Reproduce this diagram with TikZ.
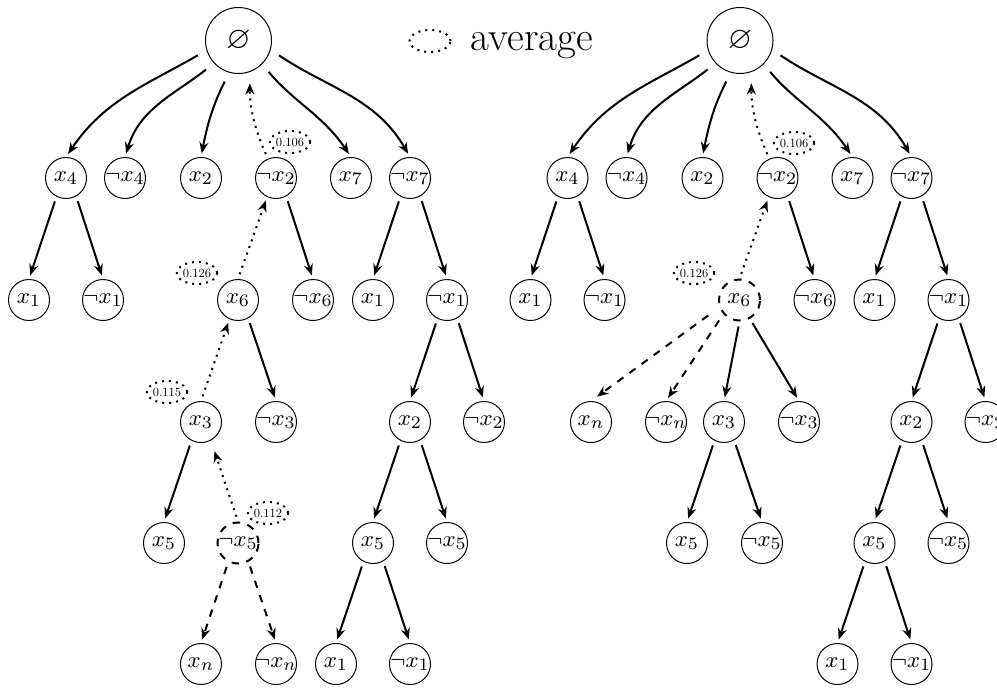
\documentclass[tikz,border=0pt]{standalone}
\usepackage{amsmath,amssymb}
\usepackage{tikz}
\usetikzlibrary{arrows.meta,shapes.geometric}

\newsavebox\litbox

\begin{document}
\begin{tikzpicture}[x=0.4pt,y=-0.4pt,
  lit/.style={circle,draw,minimum size=16.4pt,inner sep=0pt,font=\fontsize{9.4pt}{11pt}\selectfont,
    execute at begin node={\setbox\litbox=\hbox\bgroup},
    execute at end node={\egroup\makebox[0pt]{\usebox\litbox}}},
  litcut/.style={lit,dashed,thick},
  rootlit/.style={circle,draw,minimum size=26.4pt,inner sep=0pt,font=\fontsize{12.5pt}{15pt}\selectfont},
  avg/.style={ellipse,draw,dotted,thick,inner sep=0pt,minimum width=16.4pt,minimum height=8.8pt},
  avglabel/.style={avg,scale=0.5,minimum width=31.2pt,minimum height=17.6pt},
  branch/.style={thick,-{Stealth[length=4.5pt,width=3.6pt]},shorten <=2pt,shorten >=1.5pt},
  cutbranch/.style={branch,dashed},
  backup/.style={branch,dotted}]
\useasboundingbox (0,0) rectangle (997,687);

% legend
\node[avg] (avgkey) at (430,41) {};
\node[anchor=base west,font=\fontsize{16.4pt}{19pt}\selectfont] (avgtext) at (462,50) {average};

% left tree
\node[rootlit] (Lr) at (238.5,40.5) {$\varnothing$};
\node[lit] (La4) at (66,178) {$x_4$};
\node[lit] (Lna4) at (125,178) {$\neg x_4$};
\node[lit] (La2) at (201,178) {$x_2$};
\node[lit] (Lna2) at (276,178) {$\neg x_2$};
\node[lit] (La7) at (351,178) {$x_7$};
\node[lit] (Lna7) at (410,178) {$\neg x_7$};
\node[lit] (Lb1) at (29,300) {$x_1$};
\node[lit] (Lnb1) at (103,300) {$\neg x_1$};
\node[lit] (Lb6) at (238,300) {$x_6$};
\node[lit] (Lnb6) at (313,300) {$\neg x_6$};
\node[lit] (Lc1) at (373,300) {$x_1$};
\node[lit] (Lnc1) at (447,300) {$\neg x_1$};
\node[lit] (Lb3) at (201,422) {$x_3$};
\node[lit] (Lnb3) at (276,422) {$\neg x_3$};
\node[lit] (Lc2) at (410,422) {$x_2$};
\node[lit] (Lnc2) at (484,422) {$\neg x_2$};
\node[lit] (Lb5) at (164,543) {$x_5$};
\node[litcut] (Lnb5) at (238,543) {$\neg x_5$};
\node[lit] (Lc5) at (373,543) {$x_5$};
\node[lit] (Lnc5) at (447,543) {$\neg x_5$};
\node[lit] (Lbn) at (201,664) {$x_n$};
\node[lit] (Lnbn) at (276,664) {$\neg x_n$};
\node[lit] (Ld1) at (336,664) {$x_1$};
\node[lit] (Lnd1) at (410,664) {$\neg x_1$};

\node[avglabel] (Lv1) at (290,142) {0.106};
\node[avglabel] (Lv2) at (197,273) {0.126};
\node[avglabel] (Lv3) at (167,392) {0.115};
\node[avglabel] (Lv4) at (268,513) {0.112};

\draw[branch,shorten <=4pt] (Lr.-163) to[out=210,in=56] (La4.north);
\draw[branch,shorten <=4pt] (Lr.-137) to[out=218,in=73] (Lna4.north);
\draw[branch,shorten <=4pt] (Lr.-106) to[out=243,in=79] (La2.north);
\draw[branch,shorten <=4pt] (Lr.-45) to[out=-50,in=124] (La7.north);
\draw[branch,shorten <=4pt] (Lr.-16) to[out=-34,in=120] (Lna7.north);
\draw[backup,shorten >=4.5pt] (Lna2.113) to[bend left=12] (Lr.-70);
\draw[branch] (La4.-117) -- (Lb1.north);
\draw[branch] (La4.-61) -- (Lnb1.north);
\draw[branch] (Lna2.-61) -- (Lnb6.north);
\draw[backup] (Lb6.north) -- (Lna2.-115);
\draw[branch] (Lna7.-117) -- (Lc1.north);
\draw[branch] (Lna7.-61) -- (Lnc1.north);
\draw[branch] (Lb6.-61) -- (Lnb3.north);
\draw[backup] (Lb3.north) -- (Lb6.-114);
\draw[branch] (Lnc1.-117) -- (Lc2.north);
\draw[branch] (Lnc1.-61) -- (Lnc2.north);
\draw[branch] (Lb3.-117) -- (Lb5.north);
\draw[backup,shorten >=4.5pt] (Lnb5.north) -- (Lb3.-62);
\draw[branch] (Lc2.-117) -- (Lc5.north);
\draw[branch] (Lc2.-61) -- (Lnc5.north);
\draw[cutbranch] (Lnb5.-117) -- (Lbn.north);
\draw[cutbranch] (Lnb5.-61) -- (Lnbn.north);
\draw[branch] (Lc5.-117) -- (Ld1.north);
\draw[branch] (Lc5.-61) -- (Lnd1.north);

% right tree
\node[rootlit] (Rr) at (740,40.5) {$\varnothing$};
\node[lit] (Ra4) at (567.5,178) {$x_4$};
\node[lit] (Rna4) at (626.5,178) {$\neg x_4$};
\node[lit] (Ra2) at (702.5,178) {$x_2$};
\node[lit] (Rna2) at (777.5,178) {$\neg x_2$};
\node[lit] (Ra7) at (852.5,178) {$x_7$};
\node[lit] (Rna7) at (911.5,178) {$\neg x_7$};
\node[lit] (Rb1) at (530.5,300) {$x_1$};
\node[lit] (Rnb1) at (604.5,300) {$\neg x_1$};
\node[litcut] (Rb6) at (739.5,300) {$x_6$};
\node[lit] (Rnb6) at (814.5,300) {$\neg x_6$};
\node[lit] (Rc1) at (874.5,300) {$x_1$};
\node[lit] (Rnc1) at (948.5,300) {$\neg x_1$};
\node[lit] (Rbn) at (591,422) {$x_n$};
\node[lit] (Rnbn) at (666,422) {$\neg x_n$};
\node[lit] (Rb3) at (724,422) {$x_3$};
\node[lit] (Rnb3) at (799,422) {$\neg x_3$};
\node[lit] (Rc2) at (911.5,422) {$x_2$};
\node[lit] (Rnc2) at (985.5,422) {$\neg x_2$};
\node[lit] (Rb5) at (687,543) {$x_5$};
\node[lit] (Rnb5) at (762,543) {$\neg x_5$};
\node[lit] (Rc5) at (874.5,543) {$x_5$};
\node[lit] (Rnc5) at (948.5,543) {$\neg x_5$};
\node[lit] (Rd1) at (837.5,664) {$x_1$};
\node[lit] (Rnd1) at (911.5,664) {$\neg x_1$};

\node[avglabel] (Rv1) at (794,143) {0.106};
\node[avglabel] (Rv2) at (694,273) {0.126};

\draw[branch,shorten <=4pt] (Rr.-163) to[out=210,in=56] (Ra4.north);
\draw[branch,shorten <=4pt] (Rr.-137) to[out=218,in=73] (Rna4.north);
\draw[branch,shorten <=4pt] (Rr.-106) to[out=243,in=79] (Ra2.north);
\draw[branch,shorten <=4pt] (Rr.-45) to[out=-50,in=124] (Ra7.north);
\draw[branch,shorten <=4pt] (Rr.-16) to[out=-34,in=120] (Rna7.north);
\draw[backup,shorten >=4.5pt] (Rna2.113) to[bend left=12] (Rr.-70);
\draw[branch] (Ra4.-117) -- (Rb1.north);
\draw[branch] (Ra4.-61) -- (Rnb1.north);
\draw[branch] (Rna2.-61) -- (Rnb6.north);
\draw[backup] (Rb6.north) -- (Rna2.-115);
\draw[branch] (Rna7.-117) -- (Rc1.north);
\draw[branch] (Rna7.-61) -- (Rnc1.north);
\draw[cutbranch,shorten <=5.5pt,shorten >=3pt] (Rb6.-160) -- (Rbn.north);
\draw[cutbranch,shorten <=3pt] (Rb6.-139) -- (Rnbn.north);
\draw[branch] (Rb6.-90) -- (Rb3.north);
\draw[branch] (Rb6.-61) -- (Rnb3.north);
\draw[branch] (Rnc1.-117) -- (Rc2.north);
\draw[branch] (Rnc1.-61) -- (Rnc2.north);
\draw[branch] (Rb3.-117) -- (Rb5.north);
\draw[branch] (Rb3.-61) -- (Rnb5.north);
\draw[branch] (Rc2.-117) -- (Rc5.north);
\draw[branch] (Rc2.-61) -- (Rnc5.north);
\draw[branch] (Rc5.-117) -- (Rd1.north);
\draw[branch] (Rc5.-61) -- (Rnd1.north);
\end{tikzpicture}
\end{document}
